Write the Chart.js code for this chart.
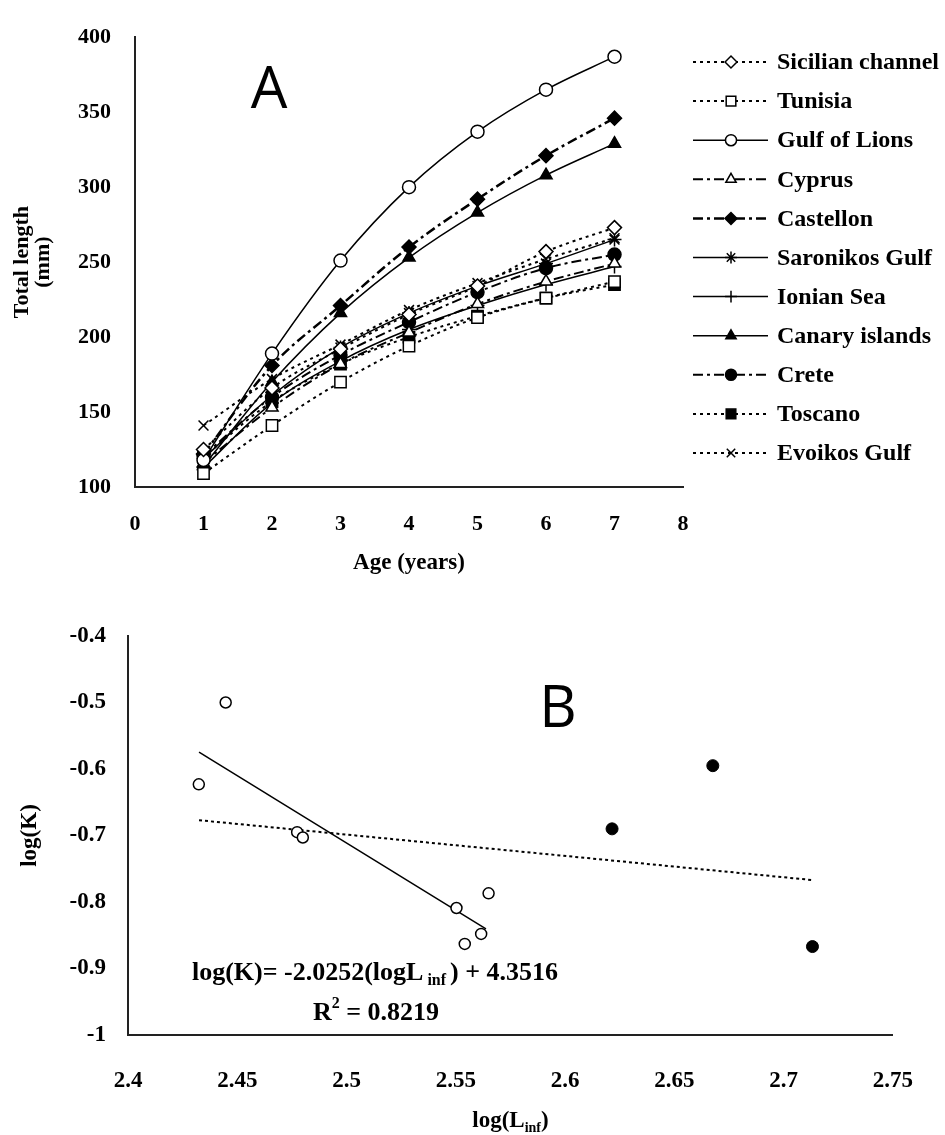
<!DOCTYPE html>
<html lang="en">
<head>
<meta charset="UTF-8">
<title>Growth curves and log(K) vs log(Linf)</title>
<script src="https://cdn.jsdelivr.net/npm/chart.js"></script>
<style>
  body { margin: 0; background: #fff; }
  .box { position: absolute; left: 0; width: 945px; }
  #boxA { top: 0; height: 590px; }
  #boxB { top: 590px; height: 545px; }
</style>
</head>
<body>
<div id="boxA" class="box"><canvas id="chartA"></canvas></div>
<div id="boxB" class="box"><canvas id="chartB"></canvas></div>

<script>
// ---- panel A data: total length (mm) by age (years) ----
const ages = [1, 2, 3, 4, 5, 6, 7];
const sicilianChannel = [125, 166, 192, 215, 234, 257, 273];
const tunisia         = [109, 141, 170, 194, 213, 226, 237];
const gulfOfLions     = [118, 189, 251, 300, 337, 365, 387];
const cyprus          = [116, 153, 182, 203, 222, 237, 249];
const castellon       = [122, 181, 221, 260, 292, 321, 346];
const saronikosGulf   = [119, 161, 193, 216, 234, 249, 265];
const ionianSea       = [113, 156, 184, 205, 221, 235, 247];
const canaryIslands   = [114, 170, 216, 253, 283, 308, 329];
const crete           = [121, 160, 188, 210, 230, 246, 255];
const toscano         = [120, 157, 182, 200, 214, 226, 235];
const evoikosGulf     = [141, 172, 195, 218, 236, 252, 266];

// ---- panel B data: log(Linf) vs log(K) ----
const openX   = [2.4324, 2.4447, 2.4774, 2.4800, 2.5503, 2.5650, 2.5541, 2.5616];
const openY   = [-0.623, -0.500, -0.695, -0.703, -0.809, -0.787, -0.863, -0.848];
const filledX = [2.6215, 2.6676, 2.7132];
const filledY = [-0.690, -0.595, -0.867];
// trend lines, end points
const fitOpenX = [2.4325, 2.5638];
const fitOpenY = [-0.5745, -0.8404];
const fitAllX  = [2.4325, 2.7132];
const fitAllY  = [-0.677, -0.767];

const serif = '"Liberation Serif", "Times New Roman", serif';
const DOT = [3, 4];
const DASHDOT = [10, 4, 3, 4];

function pts(xs, ys) {
  return xs.map((x, i) => ({ x: x, y: ys[i] }));
}

// short tick text like Excel: 2.4, 2.45, -1
function shortNum(v) {
  return String(Math.round(v * 100) / 100);
}

// one growth curve
function curve(label, values, dash, style, fill, radius, width) {
  return {
    label: label,
    data: pts(ages, values),
    borderColor: '#000',
    borderWidth: width,
    borderDash: dash,
    tension: 0.35,
    pointStyle: style,
    pointRadius: radius,
    pointBorderWidth: 1.5,
    pointBorderColor: '#000',
    pointBackgroundColor: fill
  };
}

// legend drawn at the right of panel A, from the datasets themselves
const sideLegend = {
  id: 'sideLegend',
  afterDraw(chart) {
    const ctx = chart.ctx;
    chart.data.datasets.forEach(function (ds, i) {
      const y = 62 + i * 39.1;
      ctx.save();
      ctx.strokeStyle = '#000';
      ctx.lineWidth = ds.borderWidth;
      ctx.setLineDash(ds.borderDash);
      ctx.beginPath();
      ctx.moveTo(693, y);
      ctx.lineTo(768, y);
      ctx.stroke();
      ctx.setLineDash([]);
      ctx.fillStyle = ds.pointBackgroundColor;
      ctx.lineWidth = 1.5;
      Chart.helpers.drawPoint(ctx, { pointStyle: ds.pointStyle, radius: ds.pointRadius * 0.85, borderWidth: 1.5, rotation: 0 }, 731, y);
      ctx.fillStyle = '#000';
      ctx.font = 'bold 24px ' + serif;
      ctx.textBaseline = 'middle';
      ctx.textAlign = 'left';
      ctx.fillText(ds.label, 777, y + 1);
      ctx.restore();
    });
    // panel letter
    ctx.save();
    ctx.fillStyle = '#000';
    ctx.font = '58px "Open Sans", "DejaVu Sans", sans-serif';
    ctx.textAlign = 'center';
    ctx.fillText('A', 269, 108);
    ctx.restore();
  }
};

const chartA = new Chart(document.getElementById('chartA'), {
  type: 'line',
  data: {
    datasets: [
      curve('Sicilian channel', sicilianChannel, DOT, 'rectRot', '#fff', 7, 2),
      curve('Tunisia', tunisia, DOT, 'rect', '#fff', 8, 2),
      curve('Gulf of Lions', gulfOfLions, [], 'circle', '#fff', 6.5, 1.5),
      curve('Cyprus', cyprus, DASHDOT, 'triangle', '#fff', 7, 2),
      curve('Castellon', castellon, DASHDOT, 'rectRot', '#000', 7, 2.5),
      curve('Saronikos Gulf', saronikosGulf, [], 'star', '#000', 7, 1.5),
      curve('Ionian Sea', ionianSea, [], 'cross', '#000', 7, 1.5),
      curve('Canary islands', canaryIslands, [], 'triangle', '#000', 7, 1.5),
      curve('Crete', crete, DASHDOT, 'circle', '#000', 6.5, 2),
      curve('Toscano', toscano, DOT, 'rect', '#000', 8, 2),
      curve('Evoikos Gulf', evoikosGulf, DOT, 'crossRot', '#000', 7, 2)
    ]
  },
  options: {
    responsive: true,
    maintainAspectRatio: false,
    animation: false,
    layout: { padding: { top: 20, right: 262, left: 0, bottom: 0 } },
    plugins: { legend: { display: false }, tooltip: { enabled: false } },
    scales: {
      x: {
        type: 'linear', min: 0, max: 8,
        ticks: { stepSize: 1, padding: 24, color: '#000', font: { family: serif, size: 22, weight: 'bold' } },
        grid: { drawOnChartArea: false, drawTicks: false, color: 'rgba(0,0,0,0)' },
        border: { display: true, color: '#222', width: 2 },
        title: { display: true, text: 'Age (years)', color: '#000', padding: { top: 0, bottom: 13 }, font: { family: serif, size: 23, weight: 'bold' } },
        afterFit: function (s) { s.height = 103; }
      },
      y: {
        min: 100, max: 400,
        ticks: { stepSize: 50, padding: 24, color: '#000', font: { family: serif, size: 22, weight: 'bold' } },
        grid: { drawOnChartArea: false, drawTicks: false, color: 'rgba(0,0,0,0)' },
        border: { display: true, color: '#222', width: 2 },
        title: { display: true, text: ['Total length', '(mm)'], color: '#000', padding: { top: 12 }, font: { family: serif, size: 22, weight: 'bold', lineHeight: 0.95 } },
        afterFit: function (s) { s.width = 135; }
      }
    }
  },
  plugins: [sideLegend]
});

// text of panel B: letter, equation, axis title with subscripts
const panelBText = {
  id: 'panelBText',
  afterDraw(chart) {
    const ctx = chart.ctx;
    ctx.save();
    ctx.fillStyle = '#000';
    ctx.font = '58px "Open Sans", "DejaVu Sans", sans-serif';
    ctx.textAlign = 'center';
    ctx.fillText('B', 558, 137);

    // pieces: [text, isSub, isSup]
    function line(parts, cx, base, size) {
      const big = 'bold ' + size + 'px ' + serif;
      const small = 'bold ' + Math.round(size * 0.6) + 'px ' + serif;
      let w = 0;
      parts.forEach(function (p) { ctx.font = p[1] || p[2] ? small : big; w += ctx.measureText(p[0]).width; });
      let x = cx - w / 2;
      ctx.textAlign = 'left';
      ctx.textBaseline = 'alphabetic';
      parts.forEach(function (p) {
        ctx.font = p[1] || p[2] ? small : big;
        const dy = p[1] ? 5 : (p[2] ? -size * 0.45 : 0);
        ctx.fillText(p[0], x, base + dy);
        x += ctx.measureText(p[0]).width;
      });
    }
    line([['log(K)= -2.0252(logL'], [' inf ', true], [') + 4.3516']], 375, 390, 26);
    line([['R'], ['2', false, true], [' = 0.8219']], 376, 430, 26);
    const cx = (chart.chartArea.left + chart.chartArea.right) / 2;
    line([['log(L'], ['inf', true], [')']], cx, 537, 23);
    ctx.restore();
  }
};

const chartB = new Chart(document.getElementById('chartB'), {
  type: 'scatter',
  data: {
    datasets: [
      { data: pts(openX, openY), pointStyle: 'circle', pointRadius: 5.5, pointBorderWidth: 1.5, pointBorderColor: '#000', pointBackgroundColor: '#fff' },
      { data: pts(filledX, filledY), pointStyle: 'circle', pointRadius: 6, pointBorderWidth: 1, pointBorderColor: '#000', pointBackgroundColor: '#000' },
      { data: pts(fitOpenX, fitOpenY), showLine: true, borderColor: '#000', borderWidth: 1.5, pointRadius: 0 },
      { data: pts(fitAllX, fitAllY), showLine: true, borderColor: '#000', borderWidth: 2, borderDash: [3, 3], pointRadius: 0 }
    ]
  },
  options: {
    responsive: true,
    maintainAspectRatio: false,
    animation: false,
    layout: { padding: { top: 46, right: 38, left: 0, bottom: 0 } },
    plugins: { legend: { display: false }, tooltip: { enabled: false } },
    scales: {
      x: {
        type: 'linear', min: 2.4, max: 2.75,
        ticks: { stepSize: 0.05, padding: 32, color: '#000', callback: shortNum, font: { family: serif, size: 23, weight: 'bold' } },
        grid: { drawOnChartArea: false, drawTicks: false, color: 'rgba(0,0,0,0)' },
        border: { display: true, color: '#222', width: 2 },
        afterFit: function (s) { s.height = 100; }
      },
      y: {
        min: -1, max: -0.4,
        ticks: { stepSize: 0.1, padding: 22, color: '#000', callback: shortNum, font: { family: serif, size: 23, weight: 'bold' } },
        grid: { drawOnChartArea: false, drawTicks: false, color: 'rgba(0,0,0,0)' },
        border: { display: true, color: '#222', width: 2 },
        title: { display: true, text: 'log(K)', color: '#000', padding: { top: 16 }, font: { family: serif, size: 23, weight: 'bold' } },
        afterFit: function (s) { s.width = 128; }
      }
    }
  },
  plugins: [panelBText]
});
</script>
</body>
</html>
